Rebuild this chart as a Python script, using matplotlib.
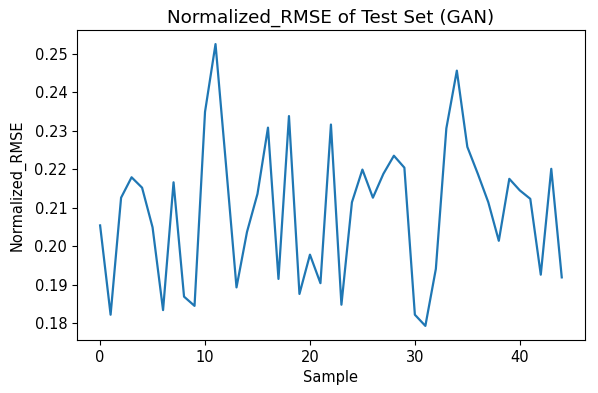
import matplotlib
matplotlib.use("Agg")
import matplotlib.pyplot as plt

samples = list(range(45))
nrmse = [0.2054, 0.1822, 0.2126, 0.2179, 0.2152, 0.2049, 0.1834, 0.2166, 0.1869, 0.1845,
         0.2349, 0.2525, 0.2211, 0.1893, 0.2037, 0.2136, 0.2308, 0.1915, 0.2338, 0.1876,
         0.1978, 0.1904, 0.2316, 0.1848, 0.2114, 0.2199, 0.2126, 0.2188, 0.2235, 0.2204,
         0.1822, 0.1793, 0.1941, 0.2306, 0.2456, 0.2258, 0.2188, 0.2114, 0.2014, 0.2175,
         0.2145, 0.2123, 0.1926, 0.2201, 0.1919]

fig = plt.figure(figsize=(5.98, 3.93), dpi=100)
ax = fig.add_axes([0.1288, 0.1349, 0.978 - 0.1288, 0.9237 - 0.1349])
ax.plot(samples, nrmse, color="#1f77b4", linewidth=1.6)
ax.set_title("Normalized_RMSE of Test Set (GAN)", fontsize=13.2, pad=5)
ax.set_xlabel("Sample", fontsize=10.5)
ax.set_ylabel("Normalized_RMSE", fontsize=10.5, labelpad=6)
ax.tick_params(labelsize=10.5)
fig.savefig("out.png", dpi=100)
